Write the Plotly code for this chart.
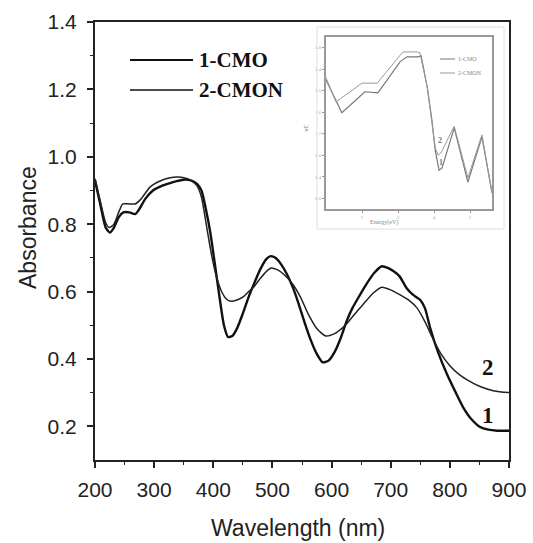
import plotly.graph_objects as go

# ---------------- main data ----------------
wl_cmo = [200, 210, 218, 225, 232, 240, 248, 258, 268, 275, 285, 298, 315, 332, 350, 362, 372, 380,
          388, 395, 402, 410, 418, 425, 432, 440, 450, 460, 470, 480, 490, 497, 505, 515, 525, 535,
          545, 555, 565, 575, 585, 595, 605, 615, 625, 635, 648, 660, 672, 685, 695, 705, 715, 727,
          738, 750, 758, 767, 780, 795, 810, 823, 837, 851, 865, 880, 900]
abs_cmo = [0.93, 0.85, 0.79, 0.775, 0.79, 0.82, 0.835, 0.835, 0.83, 0.845, 0.875, 0.90, 0.915, 0.925,
           0.932, 0.93, 0.92, 0.90, 0.84, 0.775, 0.69, 0.59, 0.50, 0.465, 0.468, 0.49, 0.535, 0.585,
           0.628, 0.668, 0.697, 0.705, 0.70, 0.68, 0.65, 0.61, 0.56, 0.505, 0.455, 0.415, 0.39, 0.395,
           0.42, 0.46, 0.51, 0.55, 0.59, 0.625, 0.655, 0.675, 0.67, 0.66, 0.645, 0.61, 0.59, 0.575,
           0.55, 0.49, 0.42, 0.355, 0.30, 0.255, 0.22, 0.198, 0.19, 0.187, 0.187]

wl_cmon = [200, 210, 218, 224, 232, 240, 247, 258, 268, 278, 293, 310, 325, 340, 352, 362, 372, 380,
           389, 398, 406, 414, 422, 430, 440, 451, 460, 468, 480, 490, 498, 508, 520, 535, 547, 560,
           575, 590, 605, 617, 626, 640, 655, 670, 685, 700, 716, 730, 745, 758, 770, 785, 800, 815,
           830, 851, 875, 900]
abs_cmon = [0.935, 0.86, 0.805, 0.79, 0.80, 0.835, 0.86, 0.86, 0.86, 0.875, 0.91, 0.928, 0.937, 0.94,
            0.937, 0.93, 0.915, 0.88, 0.79, 0.70, 0.64, 0.60, 0.578, 0.571, 0.575, 0.585, 0.60, 0.613,
            0.64, 0.66, 0.67, 0.665, 0.65, 0.62, 0.585, 0.535, 0.49, 0.468, 0.475, 0.49, 0.505, 0.535,
            0.565, 0.595, 0.613, 0.605, 0.59, 0.575, 0.55, 0.51, 0.465, 0.415, 0.38, 0.355, 0.337,
            0.318, 0.305, 0.30]

x_ticks = [200, 300, 400, 500, 600, 700, 800, 900]
y_ticks = [0.2, 0.4, 0.6, 0.8, 1.0, 1.2, 1.4]
legend_names = ["1-CMO", "2-CMON"]

# ---------------- inset data ----------------
e_cmon = [1.0, 1.28, 2.0, 2.42, 3.06, 3.14, 3.53, 3.61, 3.81, 3.94, 4.03, 4.11, 4.19, 4.56, 4.94, 5.33, 5.61]
v_cmon = [2.24, 1.79, 2.14, 2.14, 2.66, 2.72, 2.72, 2.70, 2.07, 1.46, 0.95, 0.80, 0.84, 1.34, 0.38, 1.18, 0.10]
e_cmo = [1.0, 1.44, 2.08, 2.44, 3.06, 3.25, 3.56, 3.64, 3.81, 3.94, 4.03, 4.14, 4.22, 4.56, 4.94, 5.33, 5.61]
v_cmo = [2.20, 1.59, 1.98, 1.96, 2.54, 2.63, 2.63, 2.65, 2.07, 1.46, 0.90, 0.52, 0.56, 1.31, 0.30, 1.14, 0.10]
inset_x_ticks = [2, 3, 4, 5]
inset_y_ticks = [0.0, 0.4, 0.8, 1.2, 1.6, 2.0, 2.4, 2.8]

# plot-area pixel box in the 533x543 picture
L, R, T, B = 95, 509, 22, 460

fig = go.Figure()
fig.add_trace(go.Scatter(x=wl_cmo, y=abs_cmo, mode="lines", line=dict(color="#111", width=2.4, shape="spline", smoothing=0.6),
                         name=legend_names[0], showlegend=False))
fig.add_trace(go.Scatter(x=wl_cmon, y=abs_cmon, mode="lines", line=dict(color="#222", width=1.5, shape="spline", smoothing=0.6),
                         name=legend_names[1], showlegend=False))
fig.add_trace(go.Scatter(x=e_cmo, y=v_cmo, mode="lines", line=dict(color="#777", width=1.2),
                         xaxis="x2", yaxis="y2", showlegend=False))
fig.add_trace(go.Scatter(x=e_cmon, y=v_cmon, mode="lines", line=dict(color="#999", width=1.0),
                         xaxis="x2", yaxis="y2", showlegend=False))

tickfont = dict(family="Liberation Sans, Arial, sans-serif", size=21, color="#222")
fig.update_layout(
    width=533, height=543, autosize=False,
    margin=dict(l=L, r=533 - R, t=T, b=543 - B, autoexpand=False),
    paper_bgcolor="white", plot_bgcolor="white",
    xaxis=dict(range=[200, 900], tickvals=x_ticks, ticks="outside", ticklen=6, tickwidth=1.5,
               tickcolor="#222", showline=True, linecolor="#222", linewidth=2, mirror=True,
               showgrid=False, zeroline=False, tickfont=tickfont, ticklabelstandoff=4, automargin=False,
               minor=dict(tickvals=[250, 350, 450, 550, 650, 750, 850], ticks="outside", ticklen=3,
                          tickcolor="#222", tickwidth=1.2)),
    yaxis=dict(range=[0.1, 1.4], tickvals=y_ticks, tickformat=".1f", ticks="outside", ticklen=6, tickwidth=1.5,
               tickcolor="#222", showline=True, linecolor="#222", linewidth=2, mirror=True,
               showgrid=False, zeroline=False, tickfont=tickfont, ticklabelstandoff=6, automargin=False,
               minor=dict(tickvals=[0.3, 0.5, 0.7, 0.9, 1.1, 1.3], ticks="outside", ticklen=3,
                          tickcolor="#222", tickwidth=1.2)),
    xaxis2=dict(domain=[0.558, 0.959], anchor="y2", range=[1.0, 5.61], tickvals=inset_x_ticks,
                ticks="outside", ticklen=2, tickcolor="#999", showline=True, linecolor="#999",
                linewidth=1.5, mirror=True, showgrid=False, zeroline=False, automargin=False,
                tickfont=dict(family="Liberation Serif, serif", size=5, color="#aaa")),
    yaxis2=dict(domain=[0.573, 0.966], anchor="x2", range=[-0.2, 3.0], tickvals=inset_y_ticks,
                tickformat=".1f", ticks="outside", ticklen=2, tickcolor="#999", showline=True,
                linecolor="#999", linewidth=1.5, mirror=True, showgrid=False, zeroline=False, automargin=False,
                tickfont=dict(family="Liberation Serif, serif", size=5, color="#aaa")),
)

def px2paper(px, py):
    return (px - L) / (R - L), (B - py) / (B - T)

shapes = []
for (py, w) in [(60, 2.2), (90, 1.6)]:
    x0, y0 = px2paper(130, py)
    x1, _ = px2paper(193, py)
    shapes.append(dict(type="line", xref="paper", yref="paper", x0=x0, x1=x1, y0=y0, y1=y0,
                       line=dict(color="#111", width=w)))
for (py, c) in [(59, "#777"), (73, "#999")]:
    x0, y0 = px2paper(440, py)
    x1, _ = px2paper(455, py)
    shapes.append(dict(type="line", xref="paper", yref="paper", x0=x0, x1=x1, y0=y0, y1=y0,
                       line=dict(color=c, width=1)))
fx0, fy0 = px2paper(317, 229)
fx1, fy1 = px2paper(504, 27)
shapes.append(dict(type="rect", xref="paper", yref="paper", x0=fx0, x1=fx1, y0=fy0, y1=fy1,
                   line=dict(color="#dedede", width=1)))
fig.update_layout(shapes=shapes)

serif_bold = "Liberation Serif, Times New Roman, serif"
ann = []
for (py, name) in [(60, legend_names[0]), (90, legend_names[1])]:
    x, y = px2paper(197, py)
    ann.append(dict(xref="paper", yref="paper", x=x, y=y, xanchor="left", yanchor="middle",
                    text="<b>%s</b>" % name, showarrow=False,
                    font=dict(family=serif_bold, size=21, color="#111")))
for (py, name) in [(59, legend_names[0]), (73, legend_names[1])]:
    x, y = px2paper(456, py)
    ann.append(dict(xref="paper", yref="paper", x=x, y=y, xanchor="left", yanchor="middle",
                    text=name, showarrow=False,
                    font=dict(family=serif_bold, size=6, color="#888")))
ann.append(dict(x=864, y=0.375, xref="x", yref="y", text="<b>2</b>", showarrow=False,
                font=dict(family=serif_bold, size=23, color="#111")))
ann.append(dict(x=864, y=0.232, xref="x", yref="y", text="<b>1</b>", showarrow=False,
                font=dict(family=serif_bold, size=23, color="#111")))
ann.append(dict(x=4.17, y=1.065, xref="x2", yref="y2", text="<b>2</b>", showarrow=False,
                font=dict(family=serif_bold, size=8, color="#777")))
ann.append(dict(x=4.19, y=0.656, xref="x2", yref="y2", text="<b>1</b>", showarrow=False,
                font=dict(family=serif_bold, size=8, color="#777")))
x, y = px2paper(28, 228)
ann.append(dict(xref="paper", yref="paper", x=x, y=y, text="Absorbance", textangle=-90, showarrow=False,
                xanchor="center", yanchor="middle",
                font=dict(family="Liberation Sans, Arial, sans-serif", size=23, color="#222")))
x, y = px2paper(298, 528)
ann.append(dict(xref="paper", yref="paper", x=x, y=y, text="Wavelength (nm)", showarrow=False,
                xanchor="center", yanchor="middle",
                font=dict(family="Liberation Sans, Arial, sans-serif", size=23, color="#222")))
x, y = px2paper(400, 222)
ann.append(dict(xref="paper", yref="paper", x=x, y=y, text="Energy(eV)", showarrow=False,
                font=dict(family=serif_bold, size=6, color="#888")))
x, y = px2paper(305, 123)
ann.append(dict(xref="paper", yref="paper", x=x, y=y, text="αE", textangle=-90, showarrow=False,
                font=dict(family=serif_bold, size=6, color="#888")))
fig.update_layout(annotations=ann)

fig.write_html("out.html", config={"displayModeBar": False, "responsive": False},
               post_script="document.body.style.margin='0px';document.body.style.overflow='hidden';")
